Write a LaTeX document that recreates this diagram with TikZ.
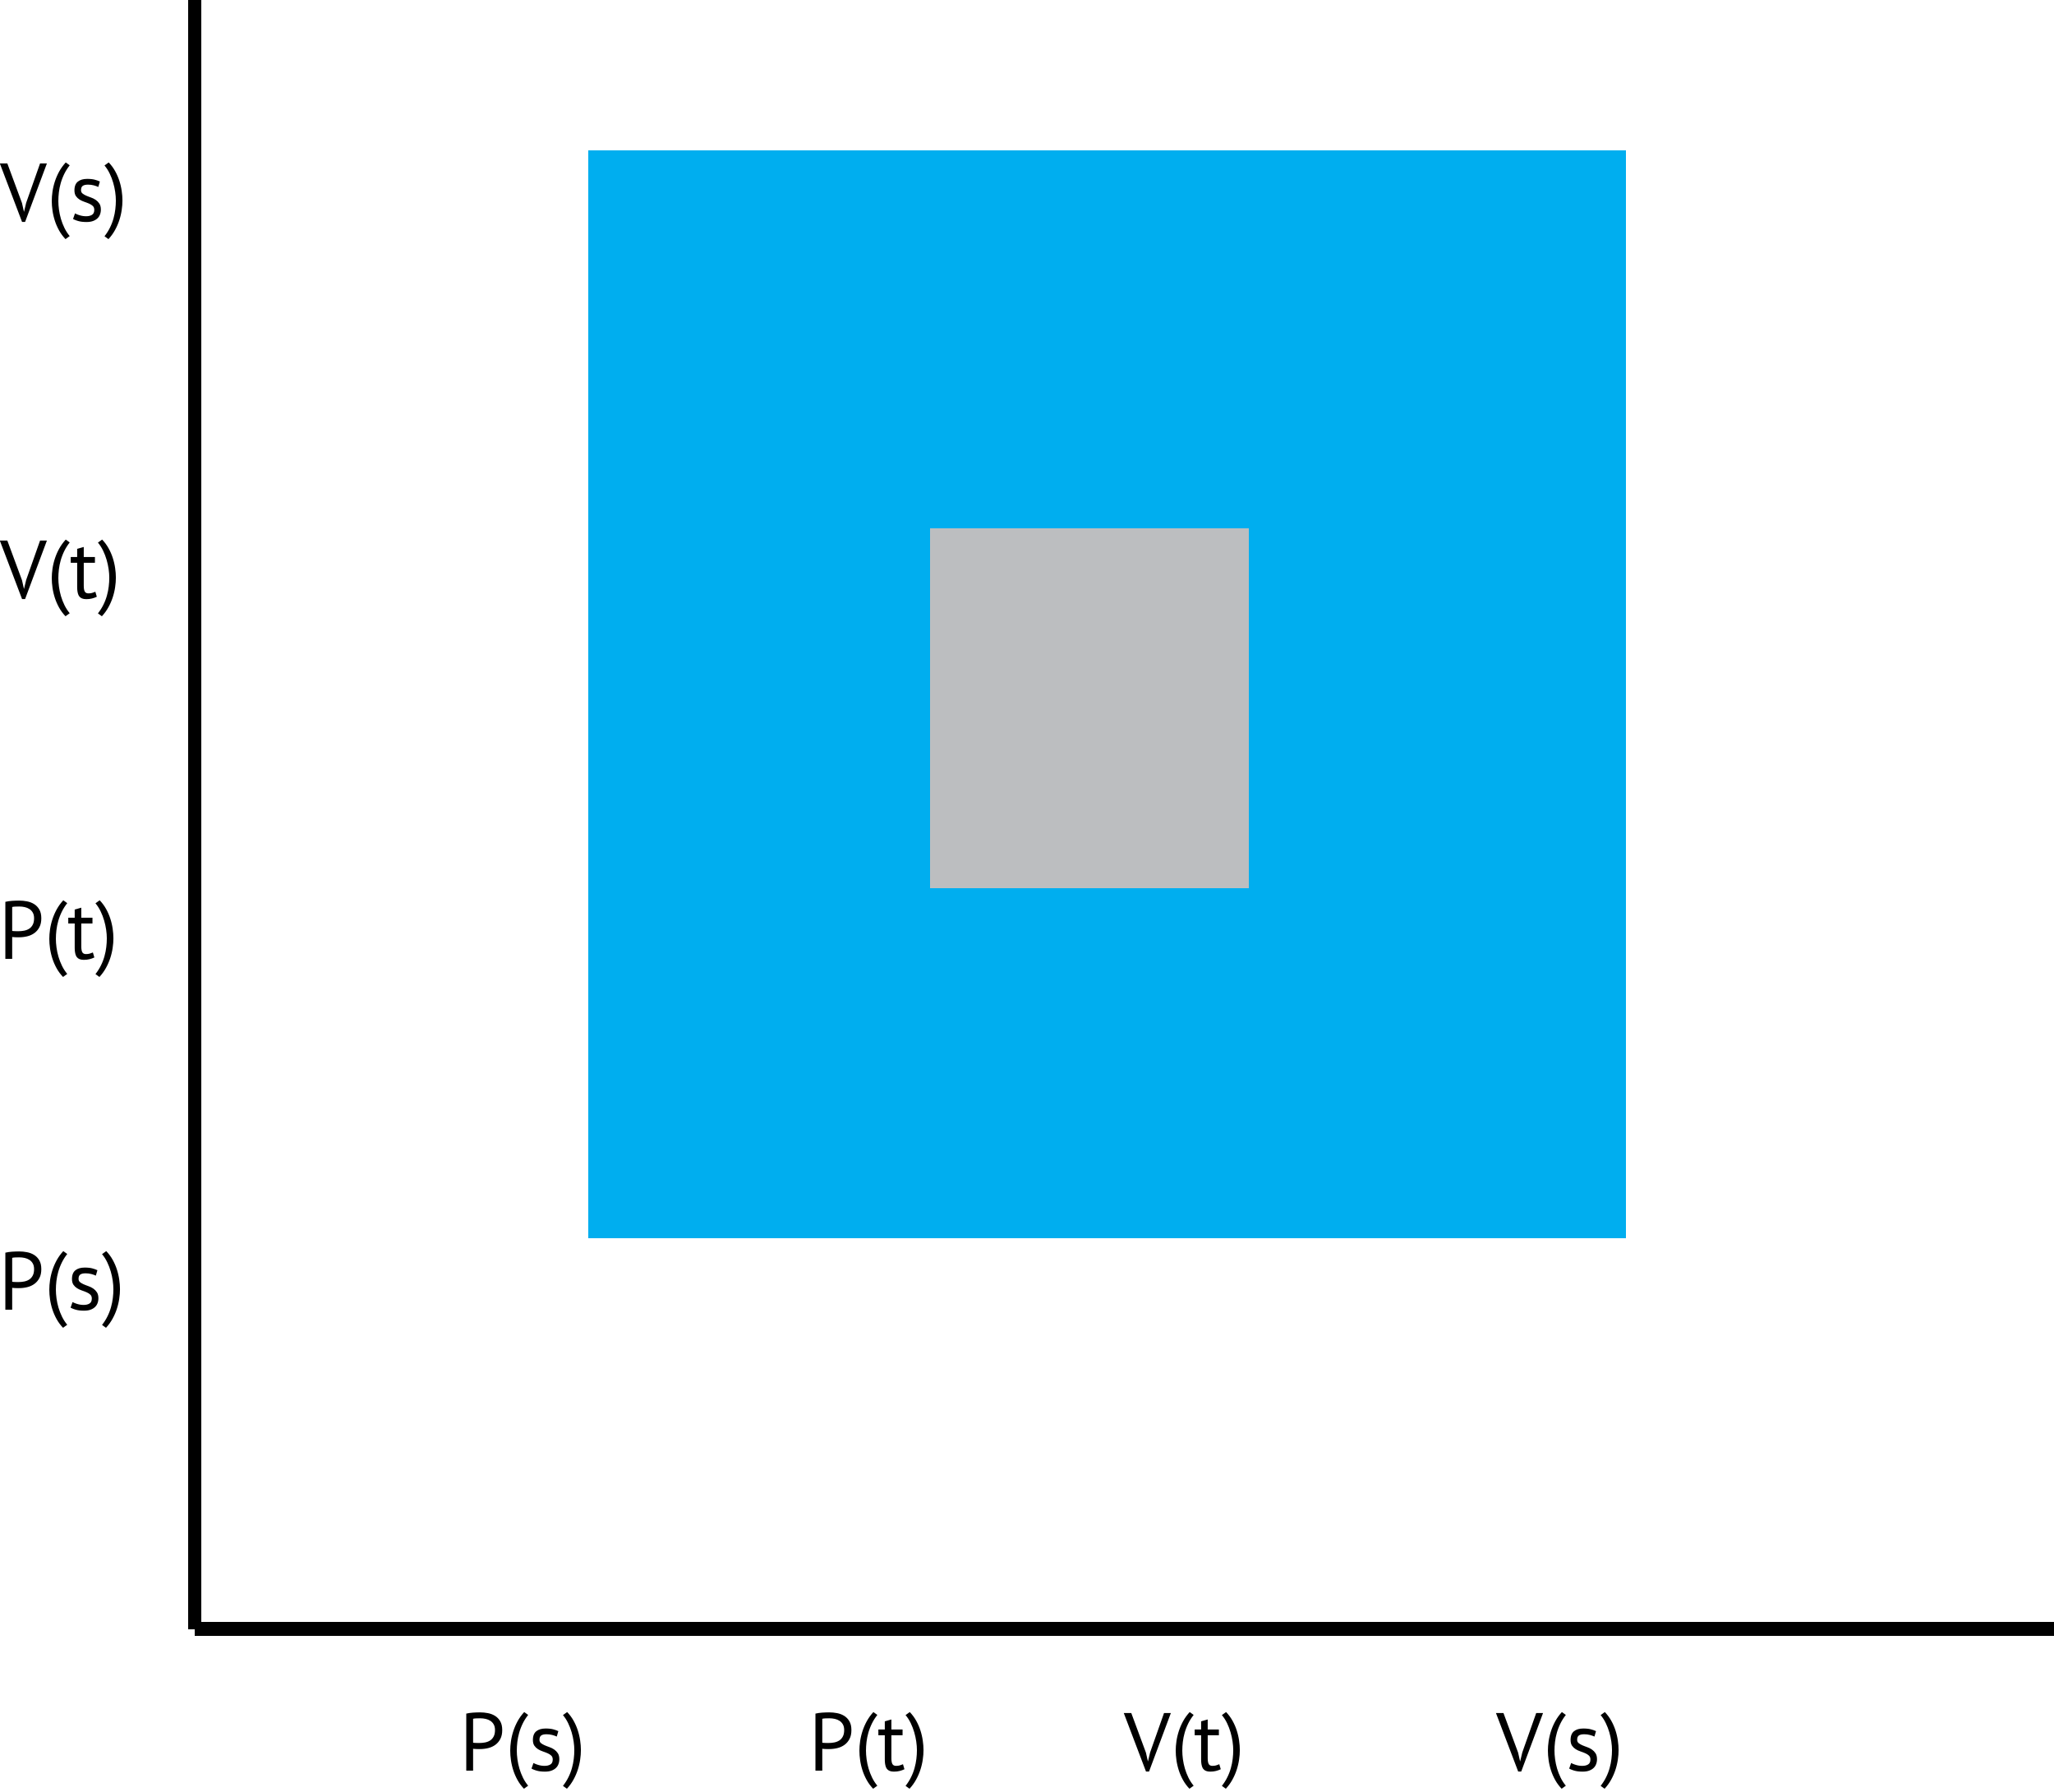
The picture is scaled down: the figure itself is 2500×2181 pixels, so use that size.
\documentclass[tikz,border=0pt]{standalone}
\usepackage{fontspec}
\setmainfont{PT Sans}
\definecolor{areablue}{HTML}{00AEEF}
\definecolor{areagray}{HTML}{BCBEC0}
\begin{document}
\begin{tikzpicture}[x=0.1mm,y=-0.1mm,
  lbl/.style={anchor=base west,inner sep=0pt,font=\fontsize{28.5}{34}\selectfont},
  axisbar/.style={fill=black,draw=none}]
\useasboundingbox (0,0) rectangle (2500,2181);
\fill[areablue] (716,183) rectangle (1979,1507);
\fill[areagray] (1132,643) rectangle (1520,1081);
\path[axisbar] (229,0) rectangle (245,1983);
\path[axisbar] (237,1974) rectangle (2500,1991);
\node[lbl] (yvs) at (0,270) {V(s)};
\node[lbl] (yvt) at (0,729) {V(t)};
\node[lbl] (ypt) at (-2,1167) {P(t)};
\node[lbl] (yps) at (-2,1594) {P(s)};
\node[lbl] (xps) at (559,2155) {P(s)};
\node[lbl] (xpt) at (984,2155) {P(t)};
\node[lbl] (xvt) at (1368,2155) {V(t)};
\node[lbl] (xvs) at (1821,2155) {V(s)};
\end{tikzpicture}
\end{document}
